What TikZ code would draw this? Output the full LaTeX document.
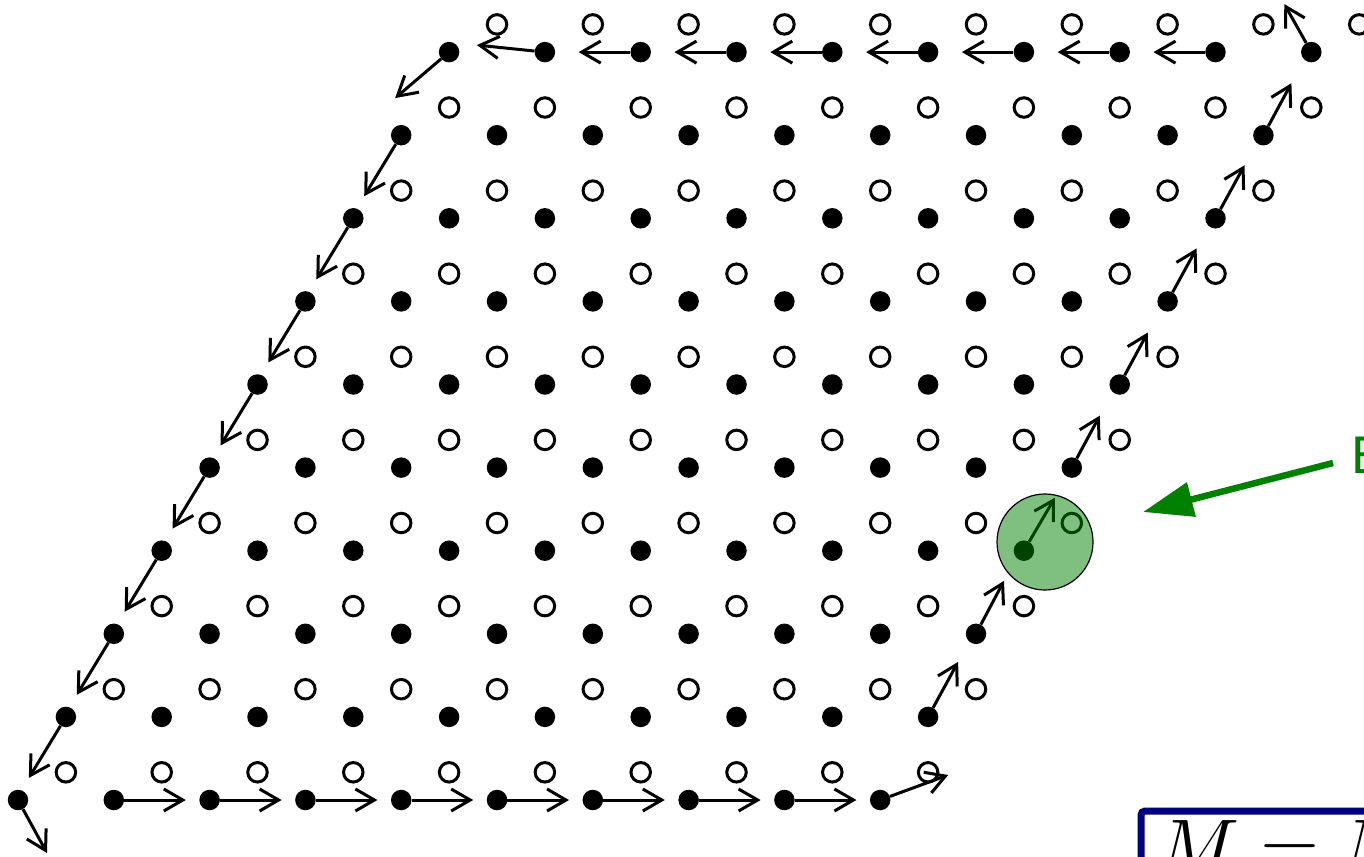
\documentclass[tikz,border=0pt]{standalone}
\usepackage{graphicx}
\usepackage{fontspec}
\newfontfamily\labelfont{Liberation Sans}
\usetikzlibrary{arrows.meta}
\definecolor{lgreen}{RGB}{0,128,0}
\definecolor{navyb}{RGB}{0,0,128}
\begin{document}
\begin{tikzpicture}[x=1pt,y=-1pt,
  fdot/.style={circle,fill=black,inner sep=0pt,minimum size=20.5pt},
  odot/.style={circle,draw=black,line width=3pt,inner sep=0pt,minimum size=19.5pt},
  vec/.style={line width=3pt,-{Straight Barb[length=19pt,width=22pt]}},
  hilite/.style={circle,fill=lgreen,fill opacity=0.5,draw=black,line width=1.2pt,minimum size=96pt,inner sep=0pt},
  pointer/.style={draw=lgreen,line width=6.5pt,-{Triangle[length=50pt,width=34pt,fill=lgreen]}},
  mbox/.style={draw=navyb,line width=7pt,rounded corners=4pt,anchor=north west,inner xsep=16pt,inner ysep=9.5pt},
  elabel/.style={anchor=base west,inner sep=0pt,text=lgreen,font=\labelfont\fontsize{53}{53}\selectfont}]
\useasboundingbox (0,0) rectangle (1364,856);
\clip (0,0) rectangle (1364,856);
% lattice
\foreach \i in {0,...,9}{
  \foreach \j in {0,...,9}{
    \node[fdot] (a\i\j) at ({18+95.8*\i+47.9*\j},{800-83.1*\j}) {};
    \node[odot] (b\i\j) at ({65.9+95.8*\i+47.9*\j},{772.3-83.1*\j}) {};
  }
}
% boundary vectors
\foreach \i/\j/\dx/\dy in {
  0/0/29/53,
  1/0/72/0, 2/0/72/0, 3/0/72/0, 4/0/72/0, 5/0/72/0, 6/0/72/0, 7/0/72/0, 8/0/72/0,
  9/0/68/-25,
  0/1/-37/61, 0/2/-37/61, 0/3/-37/61, 0/4/-37/61, 0/5/-37/61, 0/6/-37/61, 0/7/-37/61, 0/8/-37/61,
  0/9/-54/46,
  1/9/-68/-7,
  2/9/-62/0, 3/9/-62/0, 4/9/-62/0, 5/9/-62/0, 6/9/-62/0, 7/9/-62/0, 8/9/-62/0,
  9/9/-27/-48,
  9/1/30/-55, 9/2/28/-53, 9/3/31/-53, 9/4/28/-52, 9/5/28/-52, 9/6/29/-53, 9/7/29/-53, 9/8/28/-52}{
  \path (a\i\j) ++(\dx,\dy) coordinate (t\i\j);
  \draw[vec] (a\i\j) -- (t\i\j);
}
% highlight
\node[hilite] (hl) at (1045,542) {};
\node[elabel] (elab) at (1351,473) {E};
\coordinate (gs) at (1333,463);
\coordinate (gt) at (1143,512);
\draw[pointer] (gs) -- (gt);
% formula box
\node[mbox] (formula) at (1137.5,807.5) {\scalebox{7.6}{$M = N$}};
\end{tikzpicture}
\end{document}
